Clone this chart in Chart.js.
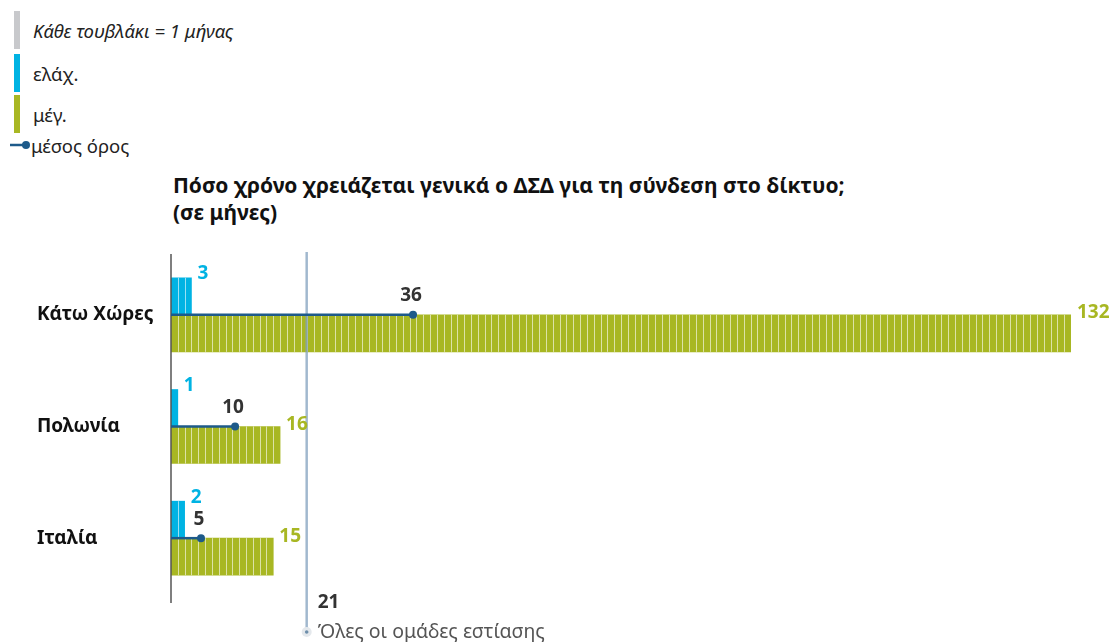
<!DOCTYPE html>
<html lang="el">
<head>
<meta charset="UTF-8">
<title>Χρόνος σύνδεσης στο δίκτυο</title>
<style>
  html, body { margin: 0; padding: 0; background: #fff; }
  body { width: 1118px; height: 642px; position: relative; overflow: hidden; font-family: "Noto Sans", sans-serif; color: #222; }
  #chart { position: absolute; left: 0; top: 0; }
  .legend { position: absolute; left: 0; top: 0; font-size: 18.5px; }
  .legend .item { position: absolute; left: 14px; height: 38px; width: 300px; }
  .legend .sw { position: absolute; left: 0; top: 0; width: 6px; height: 38px; }
  .legend .txt { position: absolute; left: 19px; top: 50%; transform: translateY(-50%); white-space: nowrap; }
  .title { position: absolute; left: 173px; top: 172px; font-size: 21px; font-weight: bold; color: #111; line-height: 27px; }
</style>
</head>
<body>

<div class="legend">
  <div class="item" style="top:11px"><div class="sw" style="background:#c8c9cc"></div><div class="txt" style="font-style:italic">Κάθε τουβλάκι = 1 μήνας</div></div>
  <div class="item" style="top:54px"><div class="sw" style="background:#00b3e3"></div><div class="txt">ελάχ.</div></div>
  <div class="item" style="top:95px"><div class="sw" style="background:#a8b723"></div><div class="txt">μέγ.</div></div>
  <div class="item" style="top:127px;left:10px;height:36px">
    <svg width="20" height="36" style="position:absolute;left:0;top:0"><line x1="0" y1="18" x2="14" y2="18" stroke="#1d5a8a" stroke-width="2.5"/><circle cx="16" cy="18" r="4" fill="#1d5a8a"/></svg>
    <div class="txt" style="left:21px">μέσος όρος</div>
  </div>
</div>

<div class="title">Πόσο χρόνο χρειάζεται γενικά ο ΔΣΔ για τη σύνδεση στο δίκτυο;<br>(σε μήνες)</div>

<canvas id="chart" width="1118" height="642"></canvas>

<script src="https://cdn.jsdelivr.net/npm/chart.js@4.4.1/dist/chart.umd.min.js"></script>
<script>
// data
const categories = ['Κάτω Χώρες', 'Πολωνία', 'Ιταλία'];
const minMonths = [3, 1, 2];
const maxMonths = [132, 16, 15];
const meanMonths = [35.5, 9.4, 4.4];
const meanLabels = ['36', '10', '5'];
const overallMean = 19.9;
const overallLabel = '21';
const overallText = 'Όλες οι ομάδες εστίασης';

const blue = '#00b3e3';
const green = '#a8b723';
const navy = '#1d5a8a';
const font = '"Noto Sans", sans-serif';

// white separators so every month is one brick
const bricks = {
  id: 'bricks',
  afterDatasetsDraw(chart) {
    const ctx = chart.ctx, xs = chart.scales.x;
    ctx.save();
    ctx.strokeStyle = 'rgba(255,255,255,0.6)';
    ctx.lineWidth = 1;
    chart.data.datasets.forEach(function (ds, di) {
      const meta = chart.getDatasetMeta(di);
      meta.data.forEach(function (bar, i) {
        const h = bar.height / 2;
        for (let k = 1; k < ds.data[i]; k++) {
          const px = Math.round(xs.getPixelForValue(k)) + 0.5;
          ctx.beginPath();
          ctx.moveTo(px, bar.y - h);
          ctx.lineTo(px, bar.y + h);
          ctx.stroke();
        }
      });
    });
    ctx.restore();
  }
};

// axis, overall line, means and value labels
const overlay = {
  id: 'overlay',
  afterDatasetsDraw(chart) {
    const ctx = chart.ctx, xs = chart.scales.x, ys = chart.scales.y;
    const area = chart.chartArea;
    const x0 = xs.getPixelForValue(0);
    ctx.save();

    // y axis line
    ctx.strokeStyle = '#555';
    ctx.lineWidth = 1.5;
    ctx.beginPath();
    ctx.moveTo(x0, area.top - 5);
    ctx.lineTo(x0, area.bottom + 9);
    ctx.stroke();

    // overall mean line
    const xm = xs.getPixelForValue(overallMean);
    ctx.strokeStyle = 'rgba(130,160,190,0.75)';
    ctx.lineWidth = 2.5;
    ctx.beginPath();
    ctx.moveTo(xm, area.top - 7);
    ctx.lineTo(xm, area.bottom + 36);
    ctx.stroke();
    ctx.fillStyle = '#e4e8ec';
    ctx.beginPath();
    ctx.arc(xm, area.bottom + 38, 5, 0, Math.PI * 2);
    ctx.fill();
    ctx.fillStyle = '#6d8eaa';
    ctx.beginPath();
    ctx.arc(xm, area.bottom + 38, 1.8, 0, Math.PI * 2);
    ctx.fill();
    ctx.textBaseline = 'middle';
    ctx.textAlign = 'left';
    ctx.fillStyle = '#333';
    ctx.font = 'bold 19px ' + font;
    ctx.fillText(overallLabel, xm + 11, area.bottom + 9);
    ctx.fillStyle = '#555';
    ctx.font = '19.5px ' + font;
    ctx.fillText(overallText, xm + 11, area.bottom + 38);

    const minMeta = chart.getDatasetMeta(0);
    const maxMeta = chart.getDatasetMeta(1);
    categories.forEach(function (c, i) {
      const yc = ys.getPixelForValue(i);
      const bMin = minMeta.data[i], bMax = maxMeta.data[i];

      // mean line + dot
      const xv = xs.getPixelForValue(meanMonths[i]);
      ctx.strokeStyle = navy;
      ctx.lineWidth = 2.5;
      ctx.beginPath();
      ctx.moveTo(x0, yc);
      ctx.lineTo(xv, yc);
      ctx.stroke();
      ctx.fillStyle = navy;
      ctx.beginPath();
      ctx.arc(xv, yc, 4, 0, Math.PI * 2);
      ctx.fill();

      ctx.font = 'bold 19px ' + font;
      ctx.textBaseline = 'middle';
      ctx.textAlign = 'center';
      ctx.fillStyle = '#333';
      ctx.fillText(meanLabels[i], xv - 2, yc - 19);

      ctx.textAlign = 'left';
      ctx.fillStyle = blue;
      ctx.fillText(String(minMonths[i]), bMin.x + 6, bMin.y - bMin.height / 2 - 4);
      ctx.fillStyle = green;
      ctx.fillText(String(maxMonths[i]), bMax.x + 6, yc - 2);
    });
    ctx.restore();
  }
};

new Chart(document.getElementById('chart'), {
  type: 'bar',
  data: {
    labels: categories,
    datasets: [
      { label: 'ελάχ.', data: minMonths, backgroundColor: blue, barThickness: 37 },
      { label: 'μέγ.', data: maxMonths, backgroundColor: green, barThickness: 37 }
    ]
  },
  options: {
    indexAxis: 'y',
    responsive: false,
    animation: false,
    layout: { padding: { left: 37, top: 259, right: 47, bottom: 48 } },
    plugins: { legend: { display: false }, tooltip: { enabled: false } },
    scales: {
      x: { display: false, min: 0, max: 132 },
      y: {
        grid: { display: false },
        border: { display: false },
        afterFit: function (scale) { scale.width = 134; },
        ticks: { crossAlign: 'far', color: '#111', font: { family: font, size: 19, weight: 'bold' } }
      }
    }
  },
  plugins: [bricks, overlay]
});
</script>
</body>
</html>
